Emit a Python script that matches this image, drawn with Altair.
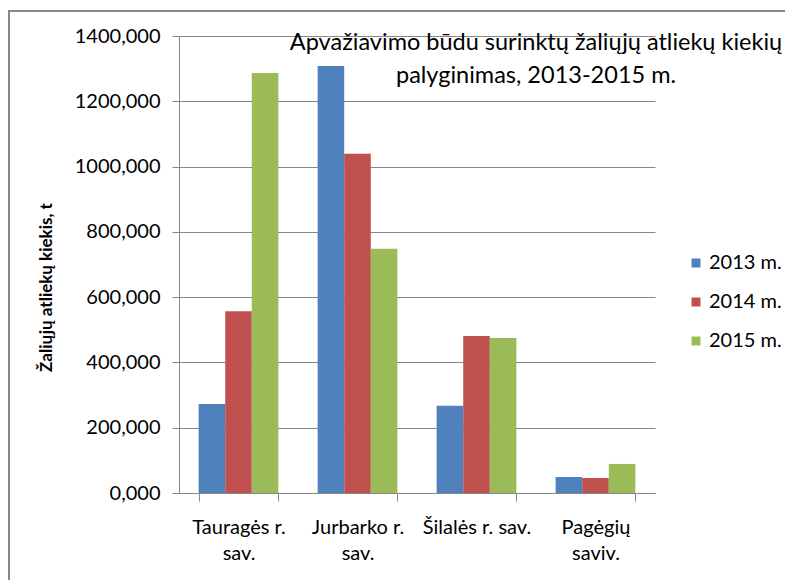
import altair as alt
import pandas as pd

categories = ["Tauragės r. sav.", "Jurbarko r. sav.", "Šilalės r. sav.", "Pagėgių saviv."]
category_lines = [["Tauragės r.", "sav."], ["Jurbarko r.", "sav."], ["Šilalės r. sav."], ["Pagėgių", "saviv."]]
years = ["2013 m.", "2014 m.", "2015 m."]
v2013 = [273, 1308, 267, 49]
v2014 = [557, 1039, 481, 46]
v2015 = [1287, 748, 475, 89]
colors = ["#4F81BD", "#C0504D", "#9BBB59"]
y_ticks = [0, 200, 400, 600, 800, 1000, 1200, 1400]
title_lines = ["Apvažiavimo būdu surinktų žaliųjų atliekų kiekių", "palyginimas, 2013-2015 m."]
y_title = "Žaliųjų atliekų kiekis, t"

rows = []
for yr, vals in zip(years, [v2013, v2014, v2015]):
    for c, v in zip(categories, vals):
        rows.append({"sav": c, "metai": yr, "kiekis": v})
df = pd.DataFrame(rows)

# label expression for multi-line category labels
expr = "datum.label"
for c, lines in reversed(list(zip(categories, category_lines))):
    arr = "[" + ", ".join("'" + l + "'" for l in lines) + "]"
    expr = f"datum.label == '{c}' ? {arr} : ({expr})"

FONT = "Lato"
GRAY = "#878787"

bars = alt.Chart(df).mark_bar().encode(
    x=alt.X("sav:N", sort=categories, title=None,
            scale=alt.Scale(paddingInner=0.33, paddingOuter=0.165),
            axis=alt.Axis(labelAngle=0, labelExpr=expr, tickBand="extent",
                          tickSize=8, tickColor=GRAY, domainColor=GRAY,
                          labelFontSize=20, labelFont=FONT, labelColor="#000000",
                          labelPadding=16, labelLineHeight=26, labelBaseline="top")),
    xOffset=alt.XOffset("metai:N", sort=years, scale=alt.Scale(paddingInner=0, paddingOuter=0)),
    y=alt.Y("kiekis:Q", scale=alt.Scale(domain=[0, 1400], nice=False),
            title=y_title,
            axis=alt.Axis(values=y_ticks, labelExpr="replace(format(datum.value, '.3f'), '.', ',')",
                          tickSize=7, tickColor=GRAY, domainColor=GRAY, gridColor=GRAY,
                          labelFontSize=20, labelFont=FONT, labelColor="#000000", labelPadding=12,
                          titleFont=FONT, titleFontSize=17, titleFontWeight="bold", titleColor="#000000",
                          titleAngle=270, titleX=-133, titleY=251, titleAlign="center",
                          titleBaseline="middle")),
    color=alt.Color("metai:N", sort=years, scale=alt.Scale(domain=years, range=colors),
                    legend=alt.Legend(title=None, orient="none", legendX=507, legendY=217,
                                      symbolType="square", symbolSize=81, symbolStrokeWidth=0,
                                      labelFontSize=20, labelFont=FONT, labelColor="#000000",
                                      rowPadding=19, labelOffset=3, padding=0)),
)

title = alt.Chart(alt.Data(values=[{"t": "\n".join(title_lines)}])).mark_text(
    font=FONT, fontSize=23.5, color="#000000", align="center", baseline="alphabetic",
    lineBreak="\n", lineHeight=33
).encode(text="t:N", x=alt.value(357), y=alt.value(14))

border = alt.Chart(alt.Data(values=[{}])).mark_rect(
    fill=None, stroke=GRAY, strokeWidth=2
).encode(x=alt.value(-170), y=alt.value(-25), x2=alt.value(700), y2=alt.value(700))

chart = alt.layer(bars, title, border).properties(
    width=476, height=457,
    padding={"left": 171, "top": 28, "right": 130, "bottom": 87},
    autosize=alt.AutoSizeParams(type="none"),
).configure_view(stroke=None).configure_axis(grid=True).configure_axisX(grid=False)

chart.save("out.html", embed_options={"renderer": "svg", "actions": False})
